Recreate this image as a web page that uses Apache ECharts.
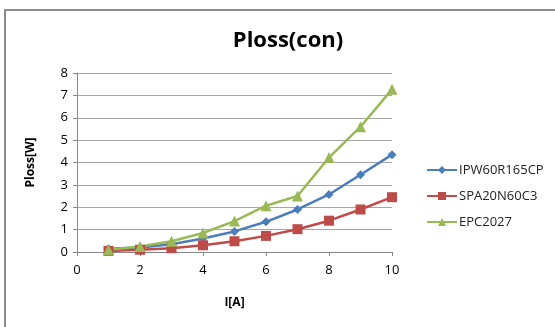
<!DOCTYPE html>
<html>
<head>
<meta charset="utf-8">
<script src="https://cdn.jsdelivr.net/npm/echarts@6/dist/echarts.min.js"></script>
<style>
  html, body { margin: 0; padding: 0; background: #fff; }
  #chart { width: 555px; height: 327px; }
</style>
</head>
<body>
<div id="chart"></div>
<script>
// currents I[A]
const currents = [1, 2, 3, 4, 5, 6, 7, 8, 9, 10]
// conduction loss per device [W]
const ipw60r165cp = [0.15, 0.2, 0.35, 0.6, 0.92, 1.35, 1.9, 2.57, 3.45, 4.35]
const spa20n60c3 = [0.05, 0.1, 0.17, 0.3, 0.48, 0.72, 1.02, 1.4, 1.9, 2.45]
const epc2027 = [0.1, 0.25, 0.48, 0.85, 1.38, 2.07, 2.5, 4.22, 5.6, 7.27]
const seriesNames = ['IPW60R165CP', 'SPA20N60C3', 'EPC2027']

const font = 'Open Sans'

const pairs = (ys) => currents.map((x, i) => [x, ys[i]])

const makeSeries = (name, ys, color, symbol, size) => ({
  name: name,
  type: 'line',
  data: pairs(ys),
  symbol: symbol,
  symbolSize: size,
  lineStyle: { color: color, width: 2.5 },
  itemStyle: { color: color },
  z: 3
})

const chart = echarts.init(document.getElementById('chart'))

chart.setOption({
  animation: false,
  backgroundColor: '#fff',
  title: {
    text: 'Ploss(con)',
    left: 283,
    top: 25,
    textAlign: 'center',
    textStyle: { fontFamily: font, fontSize: 22, fontWeight: 'bold', color: '#000' }
  },
  legend: {
    orient: 'vertical',
    left: 421,
    top: 156,
    itemWidth: 30,
    itemHeight: 10,
    itemGap: 8,
    textStyle: { fontFamily: font, fontSize: 13, color: '#222', padding: [0, 0, 0, -3], lineHeight: 18 },
    data: seriesNames
  },
  grid: { left: 77, right: 163, top: 73, bottom: 75 },
  xAxis: {
    type: 'value',
    min: 0,
    max: 10,
    interval: 2,
    name: 'I[A]',
    nameLocation: 'middle',
    nameGap: 45,
    nameTextStyle: { fontFamily: font, fontSize: 12, fontWeight: 'bold', color: '#000' },
    axisLine: { show: true, onZero: false, lineStyle: { color: '#868686', width: 1 } },
    axisTick: { show: true, inside: false, length: 4, lineStyle: { color: '#868686' } },
    axisLabel: { fontFamily: font, fontSize: 13, color: '#000', margin: 12 },
    splitLine: { show: false }
  },
  yAxis: {
    type: 'value',
    min: 0,
    max: 8,
    interval: 1,
    name: 'Ploss[W]',
    nameLocation: 'middle',
    nameGap: 40,
    nameTextStyle: { fontFamily: font, fontSize: 12, fontWeight: 'bold', color: '#000' },
    axisLine: { show: true, lineStyle: { color: '#868686', width: 1 } },
    axisTick: { show: true, length: 4, lineStyle: { color: '#868686' } },
    axisLabel: { fontFamily: font, fontSize: 13, color: '#000', margin: 9 },
    splitLine: { show: true, lineStyle: { color: '#a6a6a6', width: 1 } }
  },
  graphic: [{
    type: 'rect',
    shape: { x: 5, y: 10, width: 560, height: 330 },
    style: { fill: null, stroke: '#8c8c8c', lineWidth: 2 },
    silent: true
  }],
  series: [
    makeSeries(seriesNames[0], ipw60r165cp, '#4a7ebb', 'diamond', 9),
    makeSeries(seriesNames[1], spa20n60c3, '#be4b48', 'rect', 10),
    makeSeries(seriesNames[2], epc2027, '#98b954', 'triangle', 11)
  ]
})
</script>
</body>
</html>
